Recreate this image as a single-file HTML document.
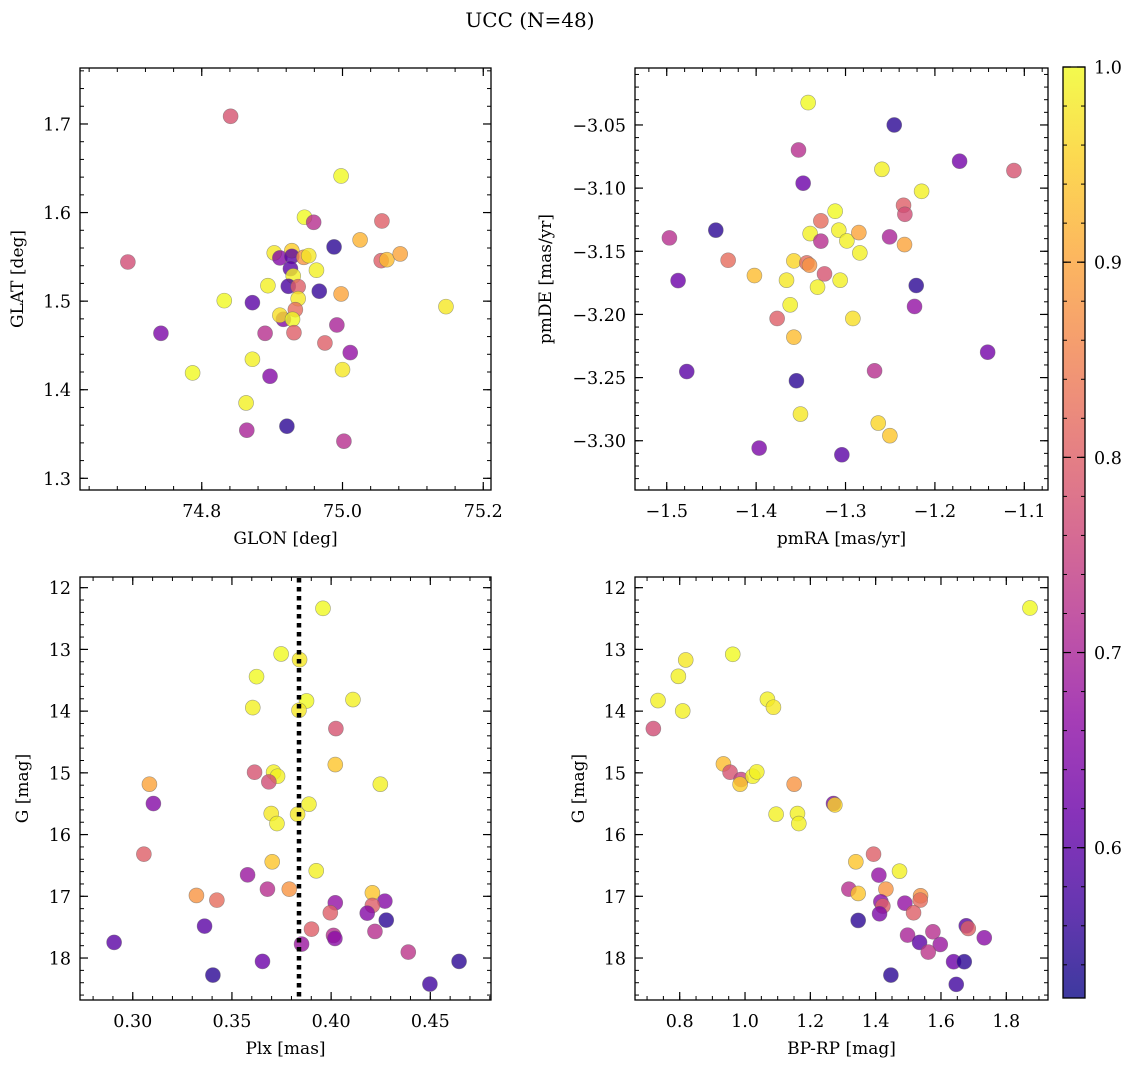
<!DOCTYPE html>
<html><head><meta charset="utf-8"><style>
html,body{margin:0;padding:0;background:#fff;}
svg{display:block;font-family:"DejaVu Serif","Liberation Serif",serif;}
</style></head><body>
<svg id="chart" width="1136" height="1067" viewBox="0 0 1136 1067" xmlns="http://www.w3.org/2000/svg">
<text x="530" y="27" font-size="20" text-anchor="middle">UCC (N=48)</text>
</svg>
<script>
// ---- Panel 1: GLON vs GLAT ----
const glon = [74.841,74.998,74.946,74.959,75.056,74.988,75.025,74.695,74.903,74.911,74.928,74.928,74.945,74.952,75.055,75.063,75.082,74.926,74.963,74.930,74.894,74.923,74.937,74.967,74.998,74.832,74.872,74.937,75.147,74.933,74.916,74.911,74.929,74.742,74.992,74.890,74.931,74.975,75.011,74.872,74.787,75.000,74.897,74.863,74.921,74.864,75.002];
const glat = [1.7087,1.6413,1.5947,1.589,1.5905,1.5612,1.5691,1.5442,1.5544,1.5488,1.557,1.5506,1.5495,1.5514,1.5457,1.5468,1.5533,1.5367,1.5349,1.5284,1.5175,1.5168,1.5164,1.5112,1.5081,1.5006,1.4983,1.5028,1.4938,1.4904,1.4795,1.4841,1.4795,1.4637,1.4731,1.4637,1.4644,1.4528,1.4419,1.4344,1.419,1.4227,1.4152,1.3851,1.3588,1.3543,1.3419];
const prob1 = [0.78,1.0,1.0,0.72,0.8,0.55,0.92,0.77,0.98,0.65,0.95,0.6,0.88,0.98,0.8,0.93,0.9,0.6,0.99,0.99,0.99,0.58,0.8,0.56,0.9,1.0,0.6,0.98,0.98,0.82,0.65,0.97,1.0,0.64,0.7,0.72,0.8,0.8,0.67,0.99,1.0,0.98,0.65,0.99,0.55,0.7,0.72];
// ---- Panel 2: pmRA vs pmDE ----
const pmra = [-1.3418,-1.2455,-1.3526,-1.1724,-1.1116,-1.2593,-1.3474,-1.2149,-1.2351,-1.2336,-1.3116,-1.3276,-1.4451,-1.497,-1.3396,-1.3276,-1.3075,-1.2985,-1.2851,-1.2507,-1.234,-1.284,-1.4313,-1.3578,-1.3433,-1.3403,-1.4019,-1.4873,-1.366,-1.3235,-1.306,-1.3313,-1.2209,-1.2228,-1.3619,-1.3765,-1.2918,-1.3578,-1.141,-1.4776,-1.2675,-1.3549,-1.3504,-1.2634,-1.2504,-1.3966,-1.3041];
const pmde = [-3.0323,-3.05,-3.0698,-3.0787,-3.0861,-3.0851,-3.0961,-3.1025,-3.1136,-3.1207,-3.1183,-3.1259,-3.1333,-3.1394,-3.136,-3.142,-3.1333,-3.1418,-3.1352,-3.1386,-3.1447,-3.1513,-3.1571,-3.1576,-3.1592,-3.161,-3.1692,-3.1732,-3.1729,-3.1679,-3.1729,-3.1784,-3.1771,-3.1937,-3.1924,-3.2032,-3.2032,-3.218,-3.2299,-3.2452,-3.2446,-3.2525,-3.2789,-3.286,-3.296,-3.3058,-3.3111];
const prob2 = [1.0,0.55,0.72,0.63,0.78,0.99,0.62,0.99,0.8,0.77,1.0,0.82,0.55,0.72,0.99,0.72,0.99,0.99,0.9,0.7,0.9,0.99,0.82,0.96,0.82,0.88,0.93,0.62,0.98,0.78,0.99,0.99,0.55,0.67,0.99,0.8,0.97,0.93,0.63,0.6,0.72,0.55,0.98,0.96,0.94,0.64,0.6];
// ---- Panel 3: Plx vs G ----
const plx = [0.3959,0.3748,0.3841,0.3624,0.3876,0.411,0.3605,0.3838,0.4024,0.4021,0.3614,0.371,0.373,0.3686,0.3084,0.4248,0.3104,0.3888,0.3698,0.3831,0.3727,0.3056,0.3703,0.3925,0.3579,0.3679,0.3789,0.4208,0.3321,0.3424,0.4021,0.4271,0.4208,0.3996,0.4182,0.4278,0.3362,0.3901,0.4221,0.4012,0.4019,0.2906,0.3851,0.4389,0.3654,0.4645,0.3404,0.4498];
const gmag3 = [12.335,13.074,13.166,13.441,13.835,13.813,13.943,13.986,14.283,14.866,14.99,14.99,15.055,15.146,15.184,15.184,15.497,15.508,15.659,15.67,15.821,16.317,16.441,16.587,16.652,16.884,16.884,16.943,16.986,17.062,17.105,17.078,17.148,17.267,17.273,17.386,17.483,17.532,17.569,17.634,17.683,17.747,17.774,17.904,18.055,18.055,18.276,18.422];
const prob3 = [1.0,1.0,0.98,1.0,1.0,0.99,0.99,0.98,0.78,0.94,0.78,0.99,0.99,0.77,0.9,0.99,0.65,0.99,0.98,0.98,0.99,0.8,0.94,0.99,0.68,0.72,0.88,0.94,0.88,0.82,0.67,0.65,0.8,0.8,0.65,0.55,0.6,0.8,0.72,0.72,0.66,0.6,0.68,0.73,0.62,0.55,0.55,0.57];
const plxMean = [0.3838];
// ---- Panel 4: BP-RP vs G ----
const bprp = [1.8725,0.9624,0.8184,0.7959,0.7336,1.0686,1.087,0.8092,0.7193,0.9338,0.9542,0.9879,0.9849,1.0237,1.036,1.1504,1.2709,1.275,1.0952,1.1606,1.1647,1.3935,1.3393,1.4731,1.4098,1.3179,1.4313,1.3465,1.5375,1.5365,1.4159,1.4895,1.422,1.516,1.4119,1.3465,1.6774,1.6836,1.5753,1.4977,1.7326,1.5344,1.5978,1.561,1.6386,1.6713,1.4466,1.6468];
const gmag4 = [12.329,13.079,13.171,13.436,13.829,13.808,13.937,13.997,14.283,14.855,14.99,15.108,15.184,15.055,14.984,15.184,15.497,15.519,15.67,15.659,15.821,16.317,16.441,16.593,16.657,16.884,16.884,16.954,16.992,17.062,17.089,17.111,17.159,17.267,17.283,17.391,17.478,17.521,17.575,17.629,17.672,17.747,17.78,17.904,18.06,18.06,18.276,18.427];
const prob4 = [1.0,1.0,0.98,0.99,0.99,0.99,0.98,0.99,0.77,0.93,0.78,0.75,0.95,0.99,0.99,0.88,0.64,0.96,0.99,0.99,0.99,0.8,0.94,0.99,0.67,0.72,0.88,0.94,0.88,0.82,0.66,0.67,0.8,0.8,0.64,0.55,0.6,0.8,0.72,0.7,0.66,0.6,0.68,0.73,0.62,0.55,0.55,0.57];
// ---- tick labels ----
const ticks1x = [74.8,75.0,75.2], ticks1y = [1.3,1.4,1.5,1.6,1.7];
const ticks2x = [-1.5,-1.4,-1.3,-1.2,-1.1], ticks2y = [-3.30,-3.25,-3.20,-3.15,-3.10,-3.05];
const ticks3x = [0.30,0.35,0.40,0.45], ticksG = [12,13,14,15,16,17,18];
const ticks4x = [0.8,1.0,1.2,1.4,1.6,1.8];
const cbTicks = [0.6,0.7,0.8,0.9,1.0];
const vmin = 0.523, vmax = 1.0;

const NS = "http://www.w3.org/2000/svg";
const svg = document.getElementById('chart');
const stops = [[13,8,135],[65,4,157],[106,0,168],[143,13,164],[177,42,144],[204,71,120],[225,100,98],[242,132,75],[252,166,54],[252,206,37],[240,249,33]];
function plasma(t){t=Math.max(0,Math.min(1,t));const f=t*10,i=Math.min(9,Math.floor(f)),r=f-i;const a=stops[i],b=stops[i+1];return 'rgb('+a.map((v,k)=>Math.round(v+(b[k]-v)*r)).join(',')+')';}
function mk(tag,attrs,parent){const e=document.createElementNS(NS,tag);for(const k in attrs)e.setAttribute(k,attrs[k]);(parent||svg).appendChild(e);return e;}
function fmt(v,d){return (v<0?'\u2212':'')+Math.abs(v).toFixed(d);}
const TF=17.5, LF=17;

function panel(name,box,xd,yd,xs,ys,xt,yt,xdec,ydec,xminor,yminor,xlabel,ylabel,ylabx){
  const g=mk('g',{});
  
  
  const X=v=>box.l+(v-xd[0])/(xd[1]-xd[0])*(box.r-box.l);
  const Y=v=>box.t+(v-yd[0])/(yd[1]-yd[0])*(box.b-box.t);
  const minorG=mk('g',{stroke:'#000','stroke-width':1},g);
  for(let v=Math.ceil(Math.min(...xd)/xminor)*xminor; v<=Math.max(...xd); v+=xminor){const x=X(v);mk('line',{x1:x,x2:x,y1:box.b,y2:box.b-4},minorG);mk('line',{x1:x,x2:x,y1:box.t,y2:box.t+4},minorG);}
  for(let v=Math.ceil(Math.min(...yd)/yminor)*yminor; v<=Math.max(...yd); v+=yminor){const y=Y(v);mk('line',{x1:box.l,x2:box.l+4,y1:y,y2:y},minorG);mk('line',{x1:box.r,x2:box.r-4,y1:y,y2:y},minorG);}
  xt.forEach(v=>{const x=X(v);mk('line',{x1:x,x2:x,y1:box.b,y2:box.b-8,stroke:'#000','stroke-width':1.2},g);mk('line',{x1:x,x2:x,y1:box.t,y2:box.t+8,stroke:'#000','stroke-width':1.2},g);
    const t=mk('text',{x:x,y:box.b+27,'font-size':TF,'text-anchor':'middle'},g);t.textContent=fmt(v,xdec);
    
    });
  yt.forEach(v=>{const y=Y(v);mk('line',{x1:box.l,x2:box.l+8,y1:y,y2:y,stroke:'#000','stroke-width':1.2},g);mk('line',{x1:box.r,x2:box.r-8,y1:y,y2:y,stroke:'#000','stroke-width':1.2},g);
    const t=mk('text',{x:box.l-9,y:y+6.5,'font-size':TF,'text-anchor':'end'},g);t.textContent=fmt(v,ydec);
    
    });
  const pts=mk('g',{},g);
  
  
  for(let i=0;i<xs.length;i++){
    const c=mk('circle',{cx:X(xs[i]),cy:Y(ys[i]),r:7.5,fill:plasma((xs.p[i]-vmin)/(vmax-vmin)),'fill-opacity':0.8,stroke:'#666','stroke-opacity':0.6,'stroke-width':0.6},pts);
    
    
  }
  mk('rect',{x:box.l,y:box.t,width:box.r-box.l,height:box.b-box.t,fill:'none',stroke:'#000','stroke-width':1.3},g);
  const xl=mk('text',{x:(box.l+box.r)/2,y:box.b+54,'font-size':LF,'text-anchor':'middle'},g);xl.textContent=xlabel;
  
  
  const cy=(box.t+box.b)/2;
  const yl=mk('text',{x:ylabx,y:cy,'font-size':LF,'text-anchor':'middle',transform:'rotate(-90 '+ylabx+' '+cy+')'},g);yl.textContent=ylabel;
  
  
  return {X,Y,g};
}
glon.p=prob1; pmra.p=prob2; plx.p=prob3; bprp.p=prob4;
panel('panel-glon-glat',{l:80,t:68,r:491,b:490},[74.627,75.211],[1.7632,1.2868],glon,glat,ticks1x,ticks1y,1,1,0.04,0.02,'GLON [deg]','GLAT [deg]',23);
panel('panel-pm',{l:635,t:68,r:1048,b:490},[-1.5355,-1.0735],[-3.0049,-3.339],pmra,pmde,ticks2x,ticks2y,1,2,0.02,0.01,'pmRA [mas/yr]','pmDE [mas/yr]',551);
const p3=panel('panel-plx-g',{l:80,t:577,r:491,b:1000},[0.2734,0.4806],[11.827,18.68],plx,gmag3,ticks3x,ticksG,2,0,0.01,0.2,'Plx [mas]','G [mag]',28);
panel('panel-cmd',{l:635,t:577,r:1048,b:1000},[0.6631,1.9277],[11.827,18.68],bprp,gmag4,ticks4x,ticksG,1,0,0.05,0.2,'BP-RP [mag]','G [mag]',584);
const px=p3.X(plxMean[0]);
const dl=mk('line',{x1:px,x2:px,y1:578,y2:999,stroke:'#000','stroke-width':4.5,'stroke-dasharray':'4.5 4.5'},p3.g);



const cb={l:1063,r:1085,t:67,b:998};
const cbg=mk('g',{});


const defs=mk('defs',{},cbg);
const lg=mk('linearGradient',{id:'cbgrad',x1:0,y1:1,x2:0,y2:0},defs);
for(let i=0;i<=20;i++){mk('stop',{offset:(i/20),'stop-color':plasma(i/20),'stop-opacity':0.8},lg);}
mk('rect',{x:cb.l,y:cb.t,width:cb.r-cb.l,height:cb.b-cb.t,fill:'url(#cbgrad)'},cbg);
const CY=v=>cb.b-(v-vmin)/(vmax-vmin)*(cb.b-cb.t);
for(let v=0.54;v<=1.0001;v+=0.02){const y=CY(v);mk('line',{x1:cb.r,x2:cb.r-4,y1:y,y2:y,stroke:'#000'},cbg);mk('line',{x1:cb.l,x2:cb.l+4,y1:y,y2:y,stroke:'#000'},cbg);}
cbTicks.forEach(v=>{const y=CY(v);mk('line',{x1:cb.r,x2:cb.r-8,y1:y,y2:y,stroke:'#000','stroke-width':1.2},cbg);mk('line',{x1:cb.l,x2:cb.l+8,y1:y,y2:y,stroke:'#000','stroke-width':1.2},cbg);
  const t=mk('text',{x:cb.r+9,y:y+6.5,'font-size':TF},cbg);t.textContent=v.toFixed(1);
  
  });
mk('rect',{x:cb.l,y:cb.t,width:cb.r-cb.l,height:cb.b-cb.t,fill:'none',stroke:'#000','stroke-width':1.3},cbg);
</script>
</body></html>
